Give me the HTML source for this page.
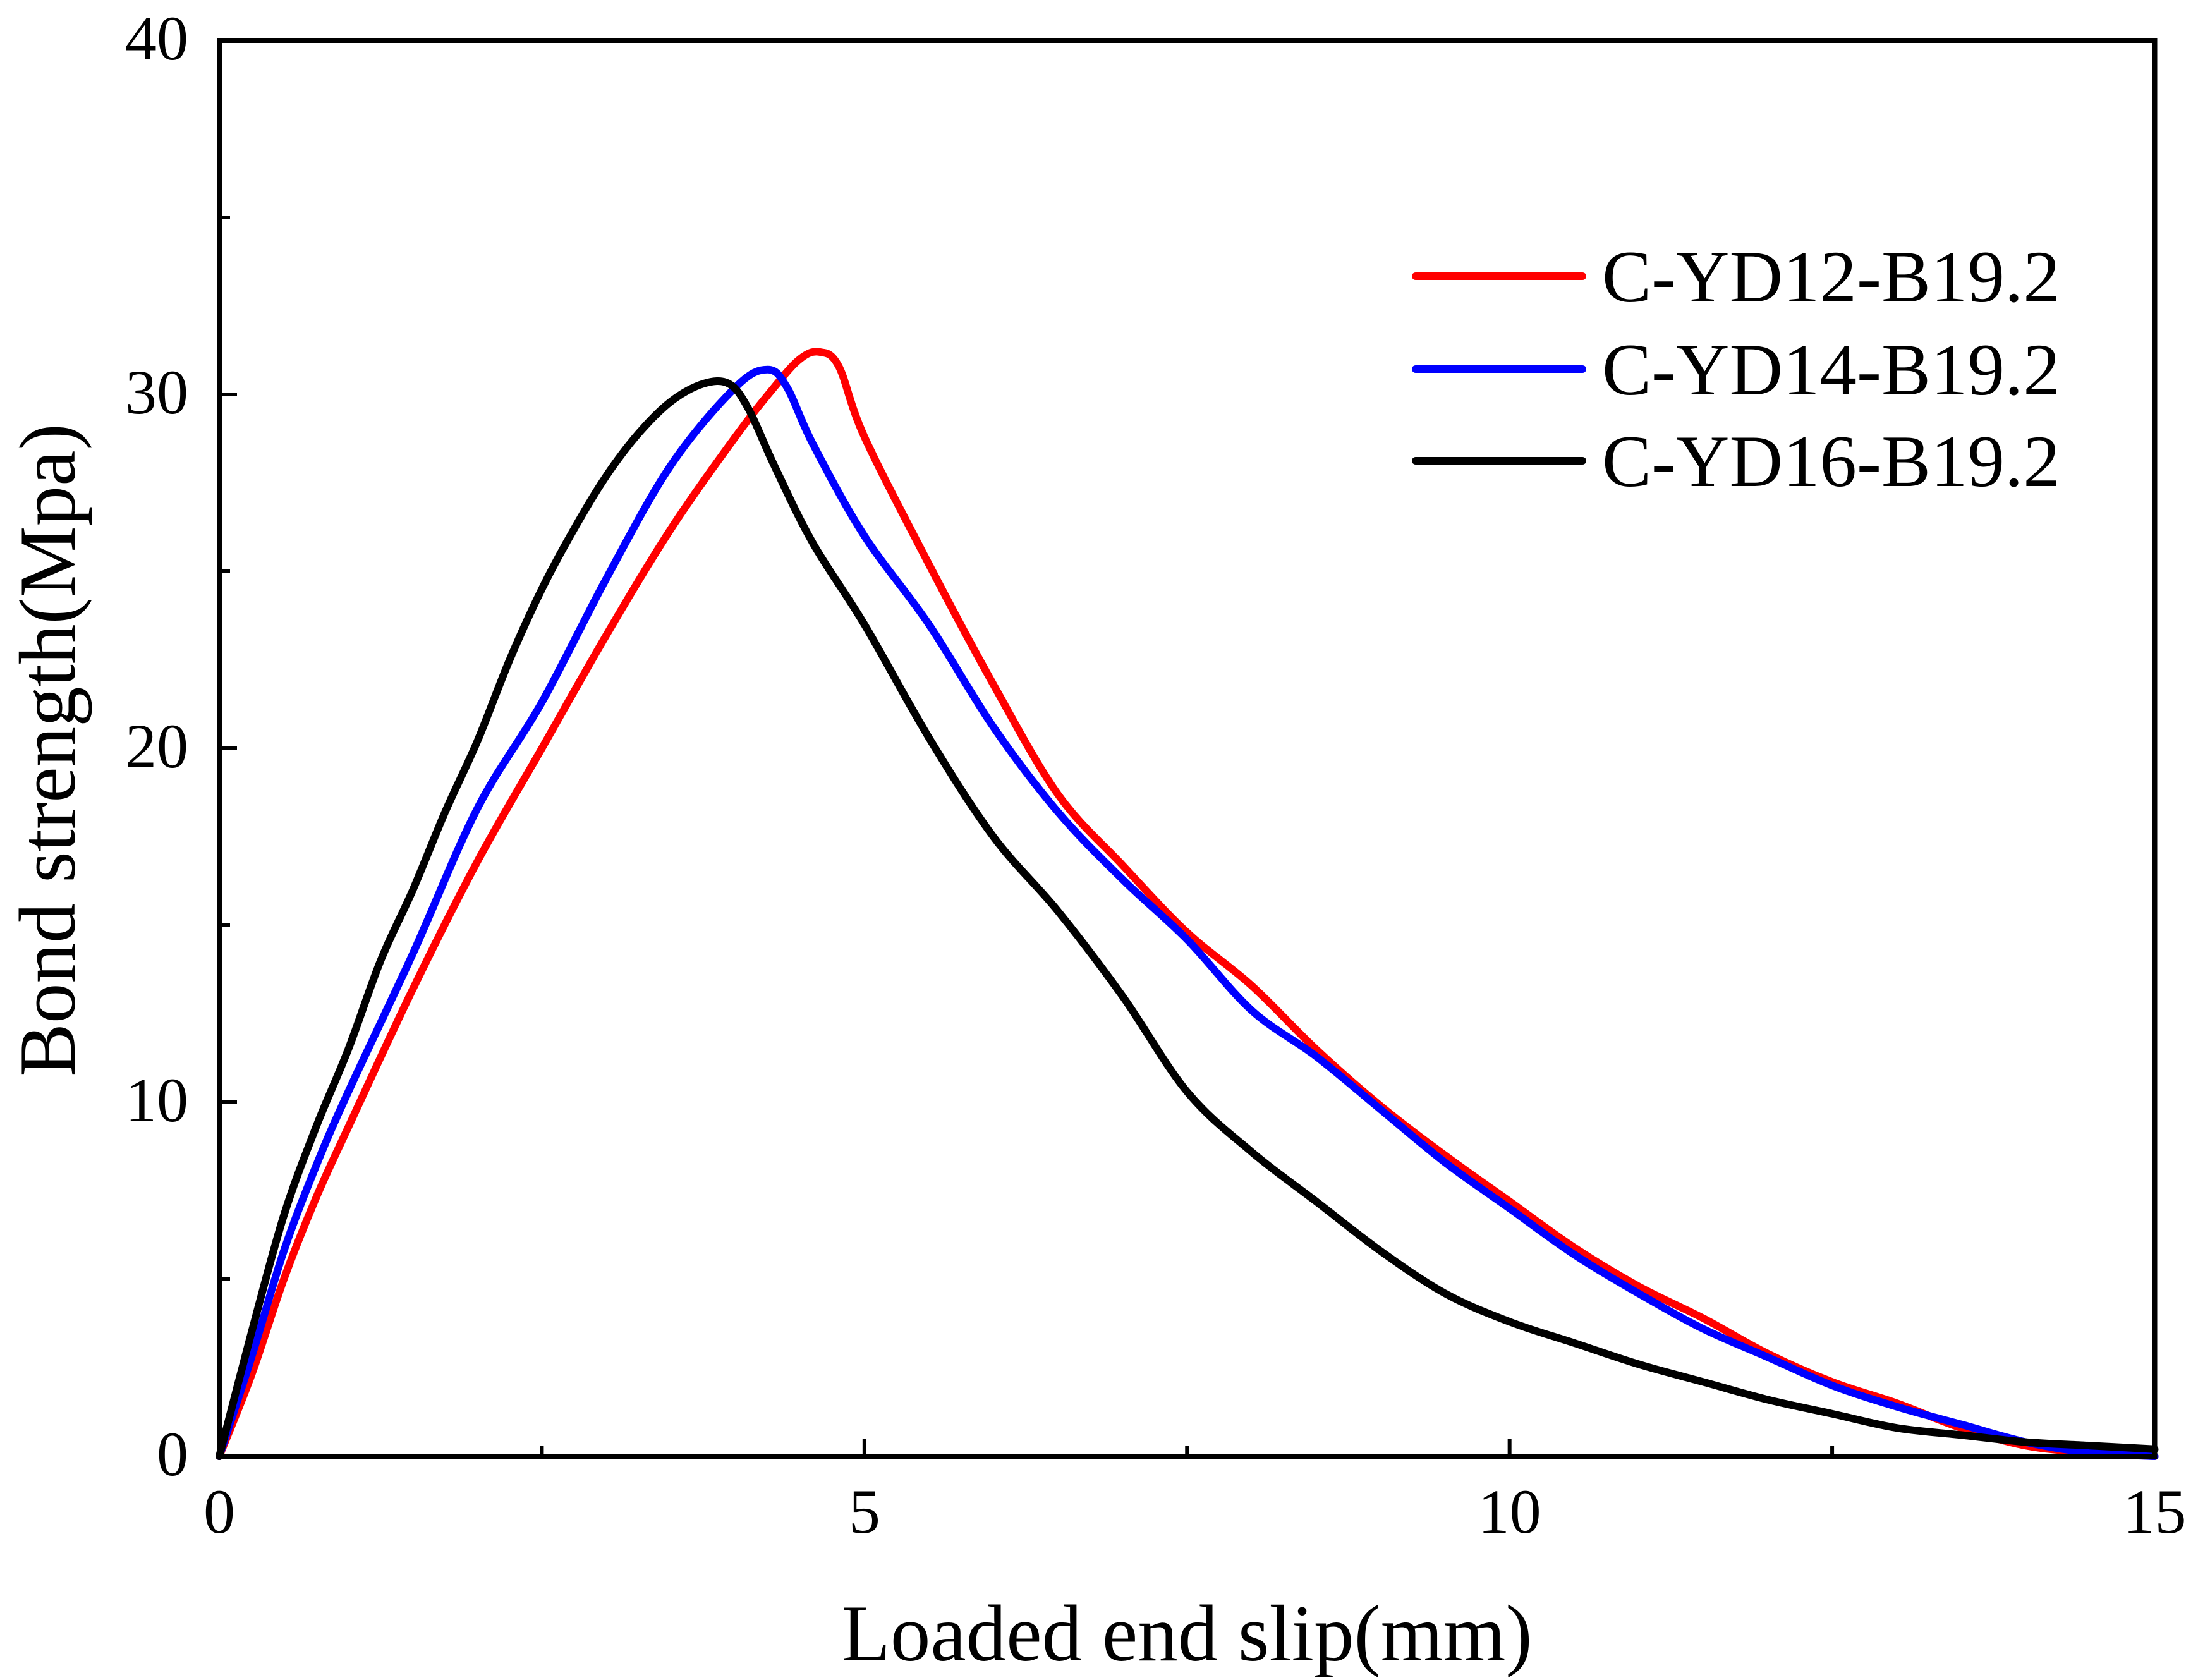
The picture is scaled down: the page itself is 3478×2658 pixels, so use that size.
<!DOCTYPE html>
<html><head><meta charset="utf-8"><style>
html,body{margin:0;padding:0;background:#fff;}
svg{display:block;font-family:"Liberation Serif",serif;}
</style></head><body>
<svg id="chart" width="3478" height="2658" viewBox="0 0 3478 2658">
<g id="plot"></g>
<g id="axes"></g>
<text x="1878" y="2627" font-size="127" text-anchor="middle">Loaded end slip(mm)</text>
<text transform="translate(118,1187) rotate(-90)" font-size="127" text-anchor="middle">Bond strength(Mpa)</text>
<g id="legend"></g>
</svg>
<script>
const xTicks=[0,5,10,15];
const xMinor=[2.5,7.5,12.5];
const yTicks=[0,10,20,30,40];
const yMinor=[5,15,25,35];
const seriesNames=["C-YD12-B19.2","C-YD14-B19.2","C-YD16-B19.2"];
const seriesColors=["#ff0000","#0000ff","#000000"];
const redX=[0,0.25,0.5,0.75,1.0,1.5,2.0,2.5,3.0,3.5,4.0,4.3,4.5,4.65,4.8,5.0,5.5,6.0,6.5,7.0,7.5,8.0,8.5,9.0,9.5,10,10.5,11,11.5,12,12.5,13,13.5,14,14.5,15];
const redY=[0,2.3,5,7.3,9.3,13.2,16.8,20,23.2,26.2,28.8,30.2,31,31.2,30.8,28.8,25.2,21.8,18.7,16.7,14.8,13.3,11.5,9.9,8.5,7.2,5.9,4.8,3.9,2.9,2.1,1.5,0.8,0.3,0.1,0];
const blueX=[0,0.25,0.5,0.75,1.0,1.5,2.0,2.5,3.0,3.5,4.0,4.25,4.4,4.6,5.0,5.5,6.0,6.5,7.0,7.5,8.0,8.5,9.0,9.5,10,10.5,11,11.5,12,12.5,13,13.5,14,14.5,15];
const blueY=[0,2.8,5.8,8.2,10.3,14.2,18.3,21.3,24.8,28,30.2,30.7,30.2,28.6,26,23.5,20.6,18.2,16.3,14.6,12.6,11.3,9.8,8.3,7,5.7,4.6,3.6,2.8,2.0,1.4,0.9,0.4,0.1,0];
const blackX=[0,0.25,0.5,0.75,1.0,1.25,1.5,1.75,2.0,2.25,2.5,2.75,3.0,3.25,3.5,3.75,3.95,4.1,4.3,4.6,5.0,5.5,6.0,6.5,7.0,7.5,8.0,8.5,9.0,9.5,10,10.5,11,11.5,12,12.5,13,13.5,14,14.5,15];
const blackY=[0,3.5,6.8,9.3,11.5,14,16,18.2,20.2,22.5,24.5,26.2,27.7,28.9,29.8,30.3,30.3,29.6,28,25.8,23.5,20.3,17.5,15.4,13,10.3,8.6,7.2,5.8,4.6,3.8,3.2,2.6,2.1,1.6,1.2,0.8,0.6,0.4,0.3,0.2];

const X0=347,X1=3409.5,Y0=2304,Y1=64;
function sx(v){return X0+(v-0)/(15-0)*(X1-X0);}
function sy(v){return Y0-(v-0)/(40-0)*(Y0-Y1);}
const NS="http://www.w3.org/2000/svg";
function mk(tag,attrs,parent){const e=document.createElementNS(NS,tag);for(const k in attrs)e.setAttribute(k,attrs[k]);parent.appendChild(e);return e;}
const plot=document.getElementById('plot'),axes=document.getElementById('axes'),legend=document.getElementById('legend');

function pathFor(xs,ys){
  const p=xs.map((x,i)=>[sx(x),sy(ys[i])]);
  let d="M"+p[0][0].toFixed(1)+","+p[0][1].toFixed(1);
  for(let i=0;i<p.length-1;i++){
    const a=p[Math.max(0,i-1)],b=p[i],c=p[i+1],e=p[Math.min(p.length-1,i+2)];
    const c1=[b[0]+(c[0]-a[0])/6,b[1]+(c[1]-a[1])/6],c2=[c[0]-(e[0]-b[0])/6,c[1]-(e[1]-b[1])/6];
    d+="C"+c1[0].toFixed(1)+","+c1[1].toFixed(1)+" "+c2[0].toFixed(1)+","+c2[1].toFixed(1)+" "+c[0].toFixed(1)+","+c[1].toFixed(1);
  }
  return d;
}
const allX=[redX,blueX,blackX],allY=[redY,blueY,blackY];
const lineNames=['line-c-yd12','line-c-yd14','line-c-yd16'];
for(let s=0;s<3;s++){
  const el=mk('path',{d:pathFor(allX[s],allY[s]),fill:'none',stroke:seriesColors[s],'stroke-width':12,'stroke-linejoin':'round','stroke-linecap':'round'},plot);
  
  
}
const fr=mk('rect',{x:X0,y:Y1,width:X1-X0,height:Y0-Y1,fill:'none',stroke:'#000','stroke-width':8},axes);


xTicks.forEach(v=>{
  const t=mk('line',{x1:sx(v),x2:sx(v),y1:Y0,y2:Y0-28,stroke:'#000','stroke-width':6},axes);
  
  
  const l=mk('text',{x:sx(v),y:2425,'font-size':100,'text-anchor':'middle'},axes);
  l.textContent=v;
  
  
});
xMinor.forEach(v=>{
  const t=mk('line',{x1:sx(v),x2:sx(v),y1:Y0,y2:Y0-17,stroke:'#000','stroke-width':6},axes);
  
  
});
yTicks.forEach(v=>{
  const t=mk('line',{x1:X0,x2:X0+28,y1:sy(v),y2:sy(v),stroke:'#000','stroke-width':6},axes);
  
  
  const l=mk('text',{x:298,y:sy(v)+30,'font-size':100,'text-anchor':'end'},axes);
  l.textContent=v;
  
  
});
yMinor.forEach(v=>{
  const t=mk('line',{x1:X0,x2:X0+17,y1:sy(v),y2:sy(v),stroke:'#000','stroke-width':6},axes);
  
  
});
const legY=[437,584,729];
const legKeys=['legend-entry-c-yd12','legend-entry-c-yd14','legend-entry-c-yd16'];
for(let s=0;s<3;s++){
  const g=mk('g',{},legend);
  
  
  const ln=mk('line',{x1:2240,x2:2504,y1:legY[s],y2:legY[s],stroke:seriesColors[s],'stroke-width':12,'stroke-linecap':'round'},g);
  
  
  const tx=mk('text',{x:2535,y:legY[s]+40,'font-size':117},g);
  tx.textContent=seriesNames[s];
  
  
}
</script>
</body></html>
